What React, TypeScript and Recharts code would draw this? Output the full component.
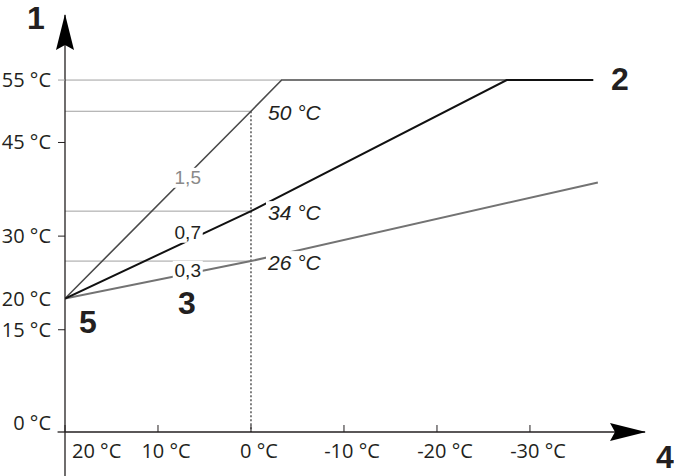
import React from 'react';
import { LineChart, Line, XAxis, YAxis, ReferenceLine } from 'recharts';

// outdoor temperature (x) and flow temperature (y) in °C
const outdoorTicks = [20, 10, 0, -10, -20, -30];
const flowTicks = [0, 15, 20, 30, 45, 55];

const curve15 = [
    { t: 20, v: 20 },
    { t: 0, v: 50 },
    { t: -3.3, v: 55 },
    { t: -36.8, v: 55 },
];
const curve07 = [
    { t: 20, v: 20 },
    { t: 0, v: 34 },
    { t: -27.5, v: 55 },
    { t: -36.8, v: 55 },
];
const curve03 = [
    { t: 20, v: 20 },
    { t: 0, v: 26 },
    { t: -37.3, v: 38.6 },
];

const readings = [
    { t: 0, v: 50, text: '50 °C' },
    { t: 0, v: 34, text: '34 °C' },
    { t: 0, v: 26, text: '26 °C' },
];

const curveLabels = [
    { t: 6.8, v: 39.5, text: '1,5', muted: true },
    { t: 6.8, v: 30.7, text: '0,7', muted: false },
    { t: 6.8, v: 24.6, text: '0,3', muted: false },
];

const xDomain = [-42.37, 20];
const yDomain = [-1.38, 65.42];

const ink = '#231f20';
const thin = '#a0a0a0';

const YTick = (props: any) => {
    const { x, y, payload } = props;
    const v = payload.value;
    const axisX = x + 13;
    return (
        <g>
            {v !== 20 && v !== 0 && (
                <line x1={axisX - 7} x2={axisX} y1={y} y2={y} stroke={v === 55 ? thin : ink} strokeWidth={1} />
            )}
            <text x={x - 1} y={y} dy={7} textAnchor="end" fontFamily="Open Sans" fontSize={20} fill={ink}>
                {`${v} °C`}
            </text>
        </g>
    );
};

const XTick = (props: any) => {
    const { x, y, payload } = props;
    const v = payload.value;
    const first = v === 20;
    return (
        <text
            x={first ? x + 7 : x + 8}
            y={y + 33}
            textAnchor={first ? 'start' : 'middle'}
            fontFamily="Open Sans"
            fontSize={20}
            fill={ink}
        >
            {`${v} °C`}
        </text>
    );
};

// white box behind each label cuts the curve where it passes under the text
const ReadingLabel = (p: any) => (
    <g key={'r' + p.index}>
        <rect x={p.cx + 15} y={p.cy - 10} width={58} height={21} fill="#fff" />
        <text x={p.cx + 17} y={p.cy + 9} fontFamily="Liberation Sans" fontStyle="italic" fontSize={21} fill={ink}>
            {p.payload.text}
        </text>
    </g>
);

const CurveLabel = (p: any) => (
    <g key={'c' + p.index}>
        <rect x={p.cx - 15} y={p.cy - 9} width={30} height={20} fill="#fff" />
        <text
            x={p.cx}
            y={p.cy + 7}
            textAnchor="middle"
            fontFamily="Liberation Sans"
            fontSize={19}
            fill={p.payload.muted ? '#8a8a8a' : ink}
        >
            {p.payload.text}
        </text>
    </g>
);

export default function App() {
    return (
        <div style={{ position: 'absolute', left: 0, top: 0, width: 674, height: 476, background: '#fff' }}>
            <LineChart width={674} height={476} margin={{ top: 15, right: 29, bottom: 0, left: 0 }}>
                <defs>
                    <marker
                        id="arrowHead"
                        viewBox="0 0 36 18"
                        refX={35}
                        refY={9}
                        markerWidth={36}
                        markerHeight={18}
                        markerUnits="userSpaceOnUse"
                        orient="auto-start-reverse"
                    >
                        <path d="M0,0 L36,9 L0,18 L5,9 Z" fill="#000" />
                    </marker>
                </defs>
                <XAxis
                    type="number"
                    dataKey="t"
                    domain={xDomain}
                    allowDataOverflow
                    reversed
                    ticks={outdoorTicks}
                    interval={0}
                    height={44}
                    tickSize={-7}
                    tickMargin={0}
                    tick={<XTick />}
                    tickLine={{ stroke: ink, strokeWidth: 1 }}
                    axisLine={{ stroke: ink, strokeWidth: 1.3, markerEnd: 'url(#arrowHead)' }}
                />
                <YAxis
                    type="number"
                    dataKey="v"
                    domain={yDomain}
                    allowDataOverflow
                    ticks={flowTicks}
                    interval={0}
                    width={65}
                    tickSize={7}
                    tickMargin={6}
                    tick={<YTick />}
                    tickLine={false}
                    axisLine={{ stroke: ink, strokeWidth: 1.3, markerStart: 'url(#arrowHead)' }}
                />

                {/* axis extensions past the origin */}
                <ReferenceLine
                    segment={[{ x: 20, y: yDomain[0] }, { x: 20, y: -8.43 }]}
                    stroke={ink}
                    strokeWidth={1.3}
                    ifOverflow="visible"
                />
                <ReferenceLine
                    segment={[{ x: 20, y: yDomain[0] }, { x: 20.8, y: yDomain[0] }]}
                    stroke={ink}
                    strokeWidth={1.3}
                    ifOverflow="visible"
                />

                {/* thin guide lines */}
                <ReferenceLine segment={[{ x: 20, y: 55 }, { x: -3.3, y: 55 }]} stroke={thin} strokeWidth={1} ifOverflow="visible" />
                {readings.map((r) => (
                    <ReferenceLine
                        key={r.text}
                        segment={[{ x: 20, y: r.v }, { x: r.t, y: r.v }]}
                        stroke={thin}
                        strokeWidth={1}
                        ifOverflow="visible"
                    />
                ))}
                <ReferenceLine
                    segment={[{ x: 0, y: readings[0].v }, { x: 0, y: yDomain[0] }]}
                    stroke="#000"
                    strokeWidth={1}
                    strokeDasharray="2 2"
                    ifOverflow="visible"
                />

                <Line data={curve15} dataKey="v" stroke="#4a4a4a" strokeWidth={1.6} dot={false} isAnimationActive={false} />
                <Line data={curve03} dataKey="v" stroke="#737373" strokeWidth={2} dot={false} isAnimationActive={false} />
                <Line data={curve07} dataKey="v" stroke="#111" strokeWidth={2} dot={false} isAnimationActive={false} />

                {/* labels last so their white boxes sit over the curves */}
                <Line
                    data={readings}
                    dataKey="v"
                    stroke="none"
                    dot={ReadingLabel}
                    activeDot={false}
                    isAnimationActive={false}
                />
                <Line
                    data={curveLabels}
                    dataKey="v"
                    stroke="none"
                    dot={CurveLabel}
                    activeDot={false}
                    isAnimationActive={false}
                />

                {/* callout numbers */}
                <g fontFamily="Liberation Sans" fontWeight="bold" fontSize={32} fill={ink} textAnchor="middle">
                    <text x={36} y={29}>1</text>
                    <text x={620} y={90}>2</text>
                    <text x={187} y={314}>3</text>
                    <text x={665} y={468}>4</text>
                    <text x={88} y={333}>5</text>
                </g>
            </LineChart>
        </div>
    );
}
